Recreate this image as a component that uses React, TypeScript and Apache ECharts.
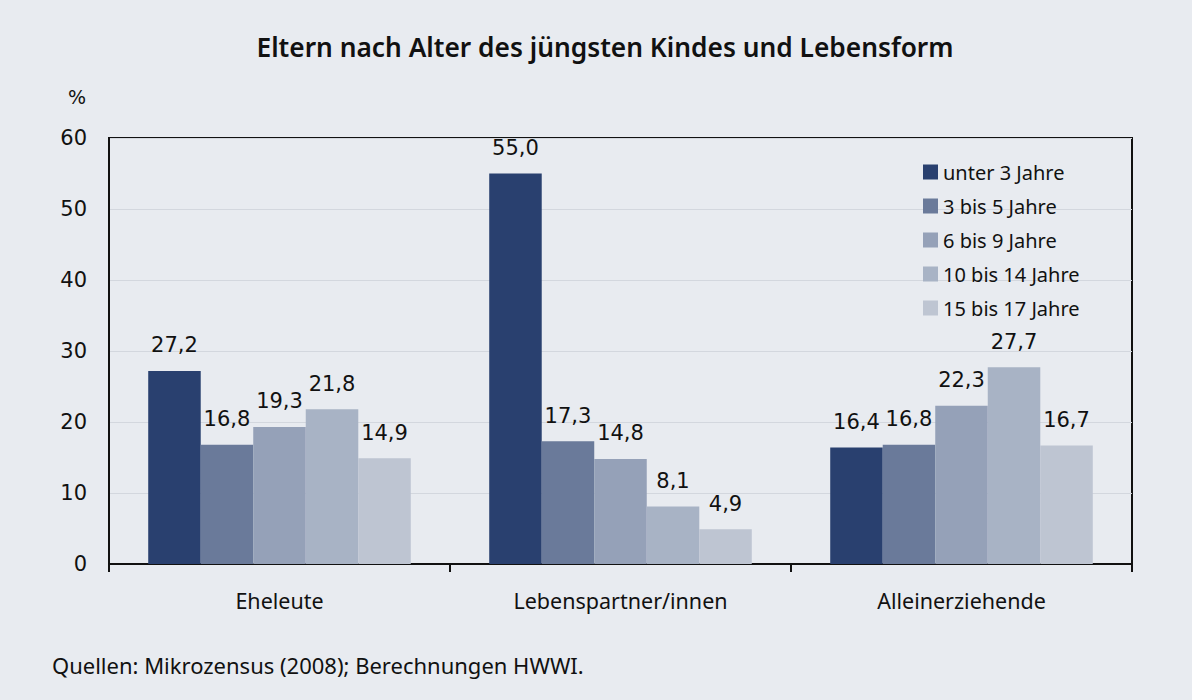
import React, { useEffect, useRef } from "react";
import * as echarts from "echarts";

const categories = ["Eheleute", "Lebenspartner/innen", "Alleinerziehende"];
const seriesNames = ["unter 3 Jahre", "3 bis 5 Jahre", "6 bis 9 Jahre", "10 bis 14 Jahre", "15 bis 17 Jahre"];
const unter3 = [27.2, 55.0, 16.4];
const bis5 = [16.8, 17.3, 16.8];
const bis9 = [19.3, 14.8, 22.3];
const bis14 = [21.8, 8.1, 27.7];
const bis17 = [14.9, 4.9, 16.7];
const colors = ["#29406f", "#6a7a9a", "#95a1b8", "#a8b3c5", "#bec5d2"];

export default function App() {
  const ref = useRef<HTMLDivElement>(null);
  useEffect(() => {
    document.body.style.margin = "0";
    const chart = echarts.init(ref.current!, null, { renderer: "svg" });
    const data = [unter3, bis5, bis9, bis14, bis17];
    chart.setOption({
      animation: false,
      backgroundColor: "#e8ebf0",
      textStyle: { fontFamily: "DejaVu Sans" },
      graphic: [
        {
          type: "text",
          x: 605,
          y: 47,
          style: {
            text: "Eltern nach Alter des jüngsten Kindes und Lebensform",
            font: "600 26.3px 'Noto Sans'",
            fill: "#111",
            align: "center",
            verticalAlign: "middle",
          },
        },
        {
          type: "text",
          left: 68,
          top: 87,
          style: { text: "%", font: "19px 'DejaVu Sans'", fill: "#111" },
        },
        {
          type: "text",
          x: 52,
          y: 665,
          style: {
            text: "Quellen: Mikrozensus (2008); Berechnungen HWWI.",
            font: "22px 'Noto Sans'",
            fill: "#111",
            verticalAlign: "middle",
          },
        },
      ],
      legend: {
        orient: "vertical",
        left: 918,
        top: 157,
        itemWidth: 15,
        itemHeight: 15,
        itemGap: 14,
        icon: "rect",
        textStyle: { fontSize: 20, fontFamily: "Noto Sans", color: "#111" },
        data: seriesNames,
      },
      grid: {
        left: 109,
        right: 60,
        top: 138,
        bottom: 136,
        show: true,
        borderColor: "#111",
        borderWidth: 2,
        backgroundColor: "transparent",
      },
      xAxis: {
        type: "category",
        data: categories,
        axisLine: { lineStyle: { color: "#111", width: 2 } },
        axisTick: { show: true, length: 8, lineStyle: { color: "#111", width: 2 } },
        axisLabel: { fontSize: 21.5, fontFamily: "Noto Sans", color: "#111", margin: 25 },
      },
      yAxis: {
        type: "value",
        min: 0,
        max: 60,
        interval: 10,
        axisLine: { show: true, lineStyle: { color: "#111", width: 2 } },
        axisTick: { show: false },
        axisLabel: { fontSize: 21, color: "#111", margin: 22 },
        splitLine: { lineStyle: { color: "#d3d7de", width: 1 } },
      },
      series: seriesNames.map((name, i) => ({
        name,
        type: "bar",
        data: data[i],
        barGap: "0%",
        barCategoryGap: "23%",
        itemStyle: { color: colors[i] },
        label: {
          show: true,
          position: "top",
          distance: 15,
          fontSize: 21,
          color: "#111",
          formatter: (p: any) => p.value.toFixed(1).replace(".", ","),
        },
      })),
    });
    return () => chart.dispose();
  }, []);
  return <div ref={ref} style={{ width: 1192, height: 700 }} />;
}
